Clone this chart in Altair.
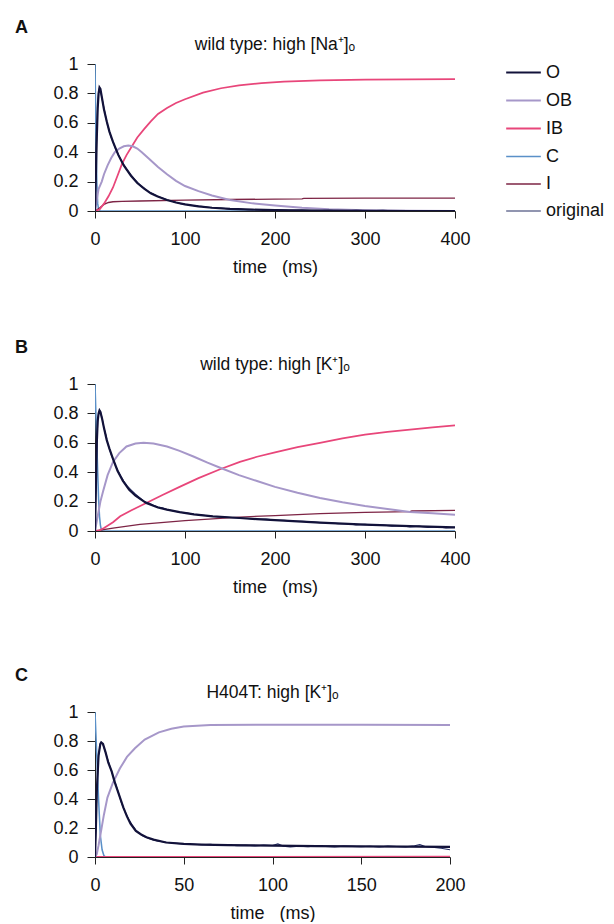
import altair as alt
import pandas as pd

FONT = "Liberation Sans"

series_names = ["O", "OB", "IB", "C", "I", "original"]
series_colors = ["#12123a", "#a697c9", "#e8467a", "#5a90c8", "#7d2445", "#242c62"]
series_widths = [2.2, 1.1, 1.3, 2.4, 1.4, 1.4]
draw_order = ["C", "I", "IB", "OB", "original", "O"]

# ---------------- Panel A: wild type, high [Na+]o ----------------
A_O_t = [0, 1, 2, 3, 4, 5, 6, 8, 10, 13, 16, 20, 26, 32, 40, 47, 55, 62, 69, 80, 90, 100, 115, 130, 150, 175, 200, 250, 300, 350, 400]
A_O_v = [0, 0.25, 0.5, 0.7, 0.8, 0.84, 0.83, 0.76, 0.69, 0.61, 0.54, 0.47, 0.38, 0.31, 0.24, 0.19, 0.15, 0.12, 0.10, 0.075, 0.058, 0.045, 0.032, 0.022, 0.014, 0.009, 0.006, 0.003, 0.001, 0.0, 0.0]
A_OB_t = [0, 2, 4, 7.5, 10, 14, 18, 22, 27, 32, 37, 42, 47, 52, 60, 70, 80, 90, 100, 115, 130, 150, 175, 200, 230, 260, 300, 350, 400]
A_OB_v = [0, 0.08, 0.15, 0.2, 0.25, 0.31, 0.36, 0.40, 0.425, 0.44, 0.445, 0.44, 0.425, 0.40, 0.355, 0.30, 0.25, 0.205, 0.17, 0.135, 0.105, 0.075, 0.052, 0.037, 0.022, 0.012, 0.005, 0.002, 0.0]
A_IB_t = [0, 5, 10, 15, 20, 25, 30, 35, 40, 47, 55, 62, 70, 80, 90, 100, 120, 140, 160, 185, 210, 250, 300, 350, 400]
A_IB_v = [0, 0.01, 0.05, 0.1, 0.16, 0.24, 0.32, 0.38, 0.43, 0.5, 0.56, 0.61, 0.66, 0.70, 0.735, 0.76, 0.805, 0.835, 0.855, 0.87, 0.88, 0.888, 0.893, 0.895, 0.897]
A_C_t = [0, 1, 2, 3, 4, 6, 400]
A_C_v = [1, 0.55, 0.2, 0.05, 0.01, 0, 0]
A_I_t = [0, 5, 10, 15, 20, 30, 50, 100, 150, 200, 230, 232, 300, 400]
A_I_v = [0, 0.02, 0.045, 0.058, 0.063, 0.066, 0.068, 0.074, 0.078, 0.081, 0.083, 0.086, 0.087, 0.088]
A_orig_t = [0, 1, 2, 3, 4, 5, 6, 7, 8, 10, 12, 14, 16, 18, 20, 23, 26, 29, 32, 36, 40, 44, 48, 52, 56, 60, 65, 70, 75, 80, 85, 90, 95, 100, 110, 120, 130, 140, 150, 160, 170, 180, 190, 200, 215, 230, 245, 260, 275, 290, 305, 320, 335, 350, 365, 380, 400]
A_orig_v = [0, 0.3, 0.55, 0.72, 0.81, 0.84, 0.82, 0.79, 0.76, 0.70, 0.64, 0.585, 0.545, 0.50, 0.47, 0.42, 0.385, 0.345, 0.315, 0.275, 0.245, 0.215, 0.19, 0.165, 0.148, 0.13, 0.115, 0.098, 0.088, 0.076, 0.066, 0.06, 0.05, 0.046, 0.036, 0.031, 0.022, 0.02, 0.013, 0.014, 0.008, 0.01, 0.005, 0.008, 0.003, 0.006, 0.001, 0.004, 0.0, 0.005, 0.001, 0.004, 0.0, 0.003, 0.0, 0.002, 0.0]

# ---------------- Panel B: wild type, high [K+]o ----------------
B_O_t = [0, 1, 2, 3, 4, 5, 6, 8, 10, 13, 16, 20, 25, 31, 38, 45, 57, 70, 80, 94, 110, 131, 157, 180, 200, 250, 300, 350, 400]
B_O_v = [0, 0.3, 0.6, 0.75, 0.8, 0.82, 0.81, 0.76, 0.70, 0.62, 0.56, 0.49, 0.41, 0.34, 0.28, 0.24, 0.19, 0.16, 0.145, 0.128, 0.113, 0.10, 0.09, 0.081, 0.074, 0.057, 0.044, 0.033, 0.025]
B_OB_t = [0, 3, 6, 9, 14, 20, 27, 35, 45, 54, 65, 80, 94, 110, 125, 139, 160, 180, 200, 225, 250, 275, 300, 325, 350, 375, 400]
B_OB_v = [0, 0.1, 0.2, 0.27, 0.38, 0.47, 0.53, 0.575, 0.595, 0.60, 0.595, 0.575, 0.545, 0.505, 0.465, 0.43, 0.38, 0.34, 0.30, 0.26, 0.225, 0.195, 0.17, 0.15, 0.13, 0.12, 0.11]
B_IB_t = [0, 5, 10, 20, 28, 40, 57, 75, 94, 115, 139, 161, 180, 200, 225, 250, 275, 300, 325, 350, 375, 400]
B_IB_v = [0, 0.005, 0.02, 0.06, 0.10, 0.14, 0.19, 0.245, 0.30, 0.36, 0.42, 0.47, 0.505, 0.535, 0.57, 0.60, 0.63, 0.656, 0.675, 0.69, 0.705, 0.718]
B_C_t = [0, 1, 2, 3, 4, 5, 6, 7, 8, 400]
B_C_v = [1, 0.8, 0.6, 0.4, 0.22, 0.1, 0.04, 0.01, 0, 0]
B_I_t = [0, 20, 50, 100, 161, 200, 250, 300, 350, 352, 400]
B_I_v = [0, 0.02, 0.045, 0.07, 0.095, 0.105, 0.118, 0.127, 0.132, 0.136, 0.14]
B_orig_t = [0, 1, 2, 3, 4, 5, 6, 8, 10, 12, 14, 16, 18, 20, 23, 26, 29, 32, 36, 40, 45, 50, 55, 60, 65, 70, 75, 80, 85, 90, 95, 100, 110, 120, 130, 140, 150, 160, 170, 180, 190, 200, 210, 220, 230, 240, 250, 260, 270, 280, 290, 300, 310, 320, 330, 340, 350, 360, 370, 380, 390, 400]
B_orig_v = [0, 0.3, 0.58, 0.74, 0.8, 0.82, 0.815, 0.765, 0.70, 0.655, 0.6, 0.56, 0.52, 0.49, 0.44, 0.405, 0.37, 0.34, 0.305, 0.28, 0.25, 0.225, 0.2, 0.19, 0.175, 0.163, 0.158, 0.145, 0.14, 0.133, 0.128, 0.125, 0.114, 0.107, 0.1, 0.095, 0.092, 0.087, 0.085, 0.079, 0.081, 0.074, 0.072, 0.068, 0.066, 0.062, 0.057, 0.056, 0.05, 0.051, 0.042, 0.045, 0.038, 0.041, 0.033, 0.036, 0.028, 0.033, 0.024, 0.029, 0.021, 0.025]

# ---------------- Panel C: H404T, high [K+]o ----------------
C_O_t = [0, 0.5, 1, 2, 3, 3.5, 4.5, 6, 7.5, 9.4, 11, 13.8, 16, 18, 20, 23, 26, 29, 33, 40, 50, 60, 75, 100, 125, 150, 175, 200]
C_O_v = [0, 0.2, 0.45, 0.7, 0.78, 0.79, 0.78, 0.72, 0.65, 0.59, 0.52, 0.42, 0.34, 0.28, 0.23, 0.18, 0.155, 0.136, 0.12, 0.10, 0.09, 0.086, 0.082, 0.078, 0.075, 0.073, 0.072, 0.07]
C_OB_t = [0, 1, 2, 3, 4, 5, 7, 10, 14, 18, 22.5, 28, 36, 43, 50, 65, 100, 150, 200]
C_OB_v = [0, 0.02, 0.08, 0.15, 0.22, 0.29, 0.41, 0.51, 0.61, 0.69, 0.75, 0.81, 0.86, 0.885, 0.90, 0.91, 0.912, 0.912, 0.91]
C_IB_t = [0, 200]
C_IB_v = [0, 0.003]
C_C_t = [0, 1, 2, 3, 4, 5, 6, 200]
C_C_v = [1, 0.7, 0.4, 0.15, 0.05, 0.01, 0, 0]
C_I_t = [0, 200]
C_I_v = [0, 0.002]
C_orig_t = [0, 0.5, 1, 2, 3, 3.5, 4.5, 6, 7.5, 9, 11, 13, 15, 17, 19, 21, 23, 25, 27, 29, 32, 35, 38, 42, 46, 50, 55, 60, 65, 70, 75, 80, 85, 90, 95, 100, 103, 106, 110, 115, 120, 125, 130, 135, 140, 145, 150, 155, 160, 165, 170, 175, 180, 183, 186, 190, 195, 200]
C_orig_v = [0, 0.2, 0.45, 0.7, 0.78, 0.79, 0.775, 0.72, 0.66, 0.6, 0.53, 0.45, 0.37, 0.31, 0.26, 0.22, 0.185, 0.165, 0.145, 0.135, 0.12, 0.11, 0.105, 0.098, 0.094, 0.09, 0.088, 0.085, 0.087, 0.08, 0.083, 0.078, 0.08, 0.076, 0.082, 0.079, 0.09, 0.075, 0.07, 0.074, 0.071, 0.076, 0.072, 0.07, 0.075, 0.073, 0.071, 0.074, 0.069, 0.075, 0.072, 0.07, 0.078, 0.085, 0.072, 0.068, 0.06, 0.05]

panel_letters = ["A", "B", "C"]
panel_titles = ["wild type: high [Na\u207a]\u2092", "wild type: high [K\u207a]\u2092", "H404T: high [K\u207a]\u2092"]
x_ticks_AB = [0, 100, 200, 300, 400]
x_ticks_C = [0, 50, 100, 150, 200]
y_ticks = [0, 0.2, 0.4, 0.6, 0.8, 1]


def frame(d):
    rows = []
    for name in draw_order:
        ts, vs = d[name]
        for t, v in zip(ts, vs):
            rows.append({"series": name, "t": t, "v": v, "k": draw_order.index(name)})
    return pd.DataFrame(rows)


data_A = frame({"O": (A_O_t, A_O_v), "OB": (A_OB_t, A_OB_v), "IB": (A_IB_t, A_IB_v),
                "C": (A_C_t, A_C_v), "I": (A_I_t, A_I_v), "original": (A_orig_t, A_orig_v)})
data_B = frame({"O": (B_O_t, B_O_v), "OB": (B_OB_t, B_OB_v), "IB": (B_IB_t, B_IB_v),
                "C": (B_C_t, B_C_v), "I": (B_I_t, B_I_v), "original": (B_orig_t, B_orig_v)})
data_C = frame({"O": (C_O_t, C_O_v), "OB": (C_OB_t, C_OB_v), "IB": (C_IB_t, C_IB_v),
                "C": (C_C_t, C_C_v), "I": (C_I_t, C_I_v), "original": (C_orig_t, C_orig_v)})


def panel(df, letter, title, xmax, xticks, width, height, show_legend):
    if show_legend:
        leg = alt.Legend(title=None, orient="none", legendX=410, legendY=-10,
                         symbolType="stroke", symbolSize=1200, symbolStrokeWidth=2.6,
                         symbolOpacity=1,
                         labelFontSize=18, labelFont=FONT, labelColor="#111",
                         rowPadding=0, labelOffset=4, values=series_names)
    else:
        leg = None
    lines = alt.Chart(df).mark_line(interpolate="linear", clip=True).encode(
        x=alt.X("t:Q", scale=alt.Scale(domain=[0, xmax], nice=False),
                axis=alt.Axis(values=xticks, title="time\u00a0\u00a0\u00a0(ms)", grid=False,
                              labelFontSize=18, titleFontSize=18, titleFontWeight="normal",
                              tickSize=7, labelPadding=12, titlePadding=10,
                              labelFlush=False)),
        y=alt.Y("v:Q", scale=alt.Scale(domain=[0, 1], nice=False),
                axis=alt.Axis(values=y_ticks, format="~g", title=None, grid=False,
                              labelFontSize=18, tickSize=8, labelPadding=9)),
        color=alt.Color("series:N", scale=alt.Scale(domain=series_names, range=series_colors), legend=leg),
        strokeWidth=alt.StrokeWidth("series:N", scale=alt.Scale(domain=series_names, range=series_widths), legend=None),
        detail="k:O",
    )
    lab = alt.Chart(pd.DataFrame({"label": [letter]})).mark_text(
        font=FONT, fontSize=18, fontWeight="bold", align="left", baseline="middle", color="#111"
    ).encode(x=alt.value(-80), y=alt.value(-36), text="label:N")
    ttl = alt.Chart(pd.DataFrame({"label": [title]})).mark_text(
        font=FONT, fontSize=17.5, align="center", baseline="middle", color="#111"
    ).encode(x=alt.value(width / 2), y=alt.value(-19), text="label:N")
    return alt.layer(lines, lab, ttl).properties(width=width, height=height)


pA = panel(data_A, panel_letters[0], panel_titles[0], 400, x_ticks_AB, 360, 147, True)
pB = panel(data_B, panel_letters[1], panel_titles[1], 400, x_ticks_AB, 360, 147, False)
pC = panel(data_C, panel_letters[2], panel_titles[2], 200, x_ticks_C, 355, 145, False)

chart = alt.vconcat(alt.vconcat(pA, pB, spacing=63), pC, spacing=71).properties(
    padding={"left": 7, "top": 11, "right": 0, "bottom": 0}
).configure(font=FONT).configure_view(stroke=None).configure_axis(
    domainColor="#222", tickColor="#222", labelColor="#111", titleColor="#111",
    labelFont=FONT, titleFont=FONT
)

chart.save("out.html", embed_options={"renderer": "svg", "actions": False})
